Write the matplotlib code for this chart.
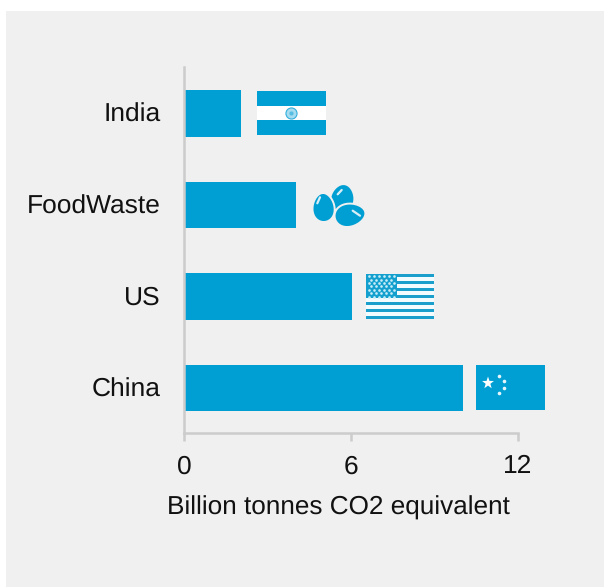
import numpy as np
import matplotlib
matplotlib.use("Agg")
import matplotlib.pyplot as plt
from matplotlib.patches import Rectangle, Polygon
from matplotlib.transforms import ScaledTranslation

categories = ["China", "US", "FoodWaste", "India"]
values = [10, 6, 4, 2]
xticks = [0, 6, 12]
xlabel = "Billion tonnes CO2 equivalent"

BLUE = "#009fd3"
PANEL = "#f0f0f0"
GREY = "#cccccc"
W, H = 604, 587

plt.rcParams["font.family"] = ["Liberation Sans", "DejaVu Sans"]
plt.rcParams["text.hinting"] = "no_hinting"

fig = plt.figure(figsize=(W / 100, H / 100), dpi=100, facecolor="white")

# grey panel behind the whole chart
fig.patches.append(Rectangle((6 / W, 0), 1 - 6 / W, 1 - 11 / H, transform=fig.transFigure,
                             facecolor=PANEL, edgecolor="none", zorder=-1))

# axes box in pixels: x from 184 to 518, y from 67 to 433
ax = fig.add_axes([184 / W, 1 - 433 / H, 334 / W, 366 / H])
ax.patch.set_alpha(0)
ax.set_xlim(0, 12)
ax.set_ylim(-0.49, 3.51)

bars = ax.barh(range(len(categories)), values, height=0.508, left=0.03, color=BLUE)

ax.set_yticks(range(len(categories)))
ax.set_yticklabels(categories, fontsize=19, color="#111111")
ax.set_xticks(xticks)
ax.set_xticklabels([str(t) for t in xticks], fontsize=19, color="#111111")
ax.set_xlabel(xlabel, fontsize=18.8, color="#111111", labelpad=12, x=0.462)
ax.tick_params(axis="y", length=0, pad=17)
ax.tick_params(axis="x", length=6, width=1.8, color=GREY, pad=9.5)
for side in ["top", "right"]:
    ax.spines[side].set_visible(False)
for side in ["left", "bottom"]:
    ax.spines[side].set_color(GREY)
    ax.spines[side].set_linewidth(1.8)

# nudge the category names up a pixel
nudge = ScaledTranslation(0, 1 / 100, fig.dpi_scale_trans)
for label in ax.get_yticklabels():
    label.set_transform(label.get_transform() + nudge)


def icon_axes(x0, y0, w, h):
    # small pixel-placed axes with 0..1 coordinates for a flag or icon
    a = fig.add_axes([x0 / W, 1 - (y0 + h) / H, w / W, h / H])
    a.set_xlim(0, 1)
    a.set_ylim(0, 1)
    a.axis("off")
    return a


def star(a, cx, cy, rx, ry, color="white"):
    ang = np.pi / 2 + np.arange(10) * np.pi / 5
    r = np.where(np.arange(10) % 2 == 0, 1.0, 0.4)
    a.add_patch(Polygon(np.c_[cx + rx * r * np.cos(ang), cy + ry * r * np.sin(ang)],
                        facecolor=color, edgecolor="none"))


def flag_india(x0, y0):
    a = icon_axes(x0, y0, 69, 44)
    a.add_patch(Rectangle((0, 0), 1, 1, facecolor=BLUE, edgecolor="none"))
    a.add_patch(Rectangle((0, 1 / 3), 1, 1 / 3, facecolor="white", edgecolor="none"))
    a.plot([0.495], [0.5], "o", ms=8, mfc="#a5dcef", mec="#33afdc", mew=0.8)
    a.plot([0.495], [0.5], "o", ms=3, mfc="#55bde2", mec="none")


def flag_us(x0, y0):
    a = icon_axes(x0, y0, 68, 45)
    for i in range(13):
        color = "#1a9ecb" if i % 2 == 0 else "#f2fbfe"
        a.add_patch(Rectangle((0, 1 - (i + 1) / 13), 1, 1 / 13, facecolor=color, edgecolor="none"))
    a.add_patch(Rectangle((0, 6 / 13), 0.45, 7 / 13, facecolor="#14a0cf", edgecolor="none", zorder=3))
    for row in range(7):
        cols = 6 if row % 2 == 0 else 5
        off = 0.04 if row % 2 == 0 else 0.077
        xs = off + np.arange(cols) * 0.074
        ys = np.full(cols, 0.95 - row * 0.075)
        a.plot(xs, ys, "o", ms=1.9, mfc="#c8edf8", mec="none", zorder=4)


def flag_china(x0, y0):
    a = icon_axes(x0, y0, 69, 45)
    a.add_patch(Rectangle((0, 0), 1, 1, facecolor=BLUE, edgecolor="none"))
    star(a, 0.174, 0.6, 0.09, 0.144)
    for cx, cy in [(0.333, 0.755), (0.402, 0.644), (0.402, 0.49), (0.333, 0.384)]:
        a.plot([cx], [cy], "o", ms=2.6, mfc="#e6f6fb", mec="none")


def egg(a, cx, cy, rx, ry, tilt, color=BLUE, edge=None):
    # wide end along +y of the egg, then turned by tilt
    t = np.linspace(0, 2 * np.pi, 80)
    px = rx * np.cos(t) * (1 + 0.12 * np.sin(t))
    py = ry * np.sin(t)
    c, s = np.cos(tilt), np.sin(tilt)
    a.add_patch(Polygon(np.c_[cx + px * c - py * s, cy + px * s + py * c],
                        facecolor=color, edgecolor=edge or "none", linewidth=1.4))


def eggs_icon(x0, y0):
    # three eggs, pixel space so the proportions stay round
    a = icon_axes(x0, y0, 53, 44)
    a.set_xlim(0, 53)
    a.set_ylim(44, 0)
    egg(a, 30.5, 14, 11, 13, np.radians(10))
    egg(a, 11.5, 23.5, 11, 14.5, np.radians(-3), edge=PANEL)
    egg(a, 38, 31, 11.5, 15.5, np.radians(80), edge=PANEL)
    a.plot([5.3, 8], [19.3, 13.3], color="#d9eff7", lw=1.6, solid_capstyle="round")
    a.plot([25.7, 29.7], [10.3, 6], color="#d9eff7", lw=1.6, solid_capstyle="round")
    a.plot([40.7, 48], [26.7, 31.7], color="#d9eff7", lw=1.6, solid_capstyle="round")


flag_india(257, 91)
eggs_icon(312, 184)
flag_us(366, 274)
flag_china(476, 365)

fig.savefig("out.png", dpi=100, facecolor=fig.get_facecolor())
